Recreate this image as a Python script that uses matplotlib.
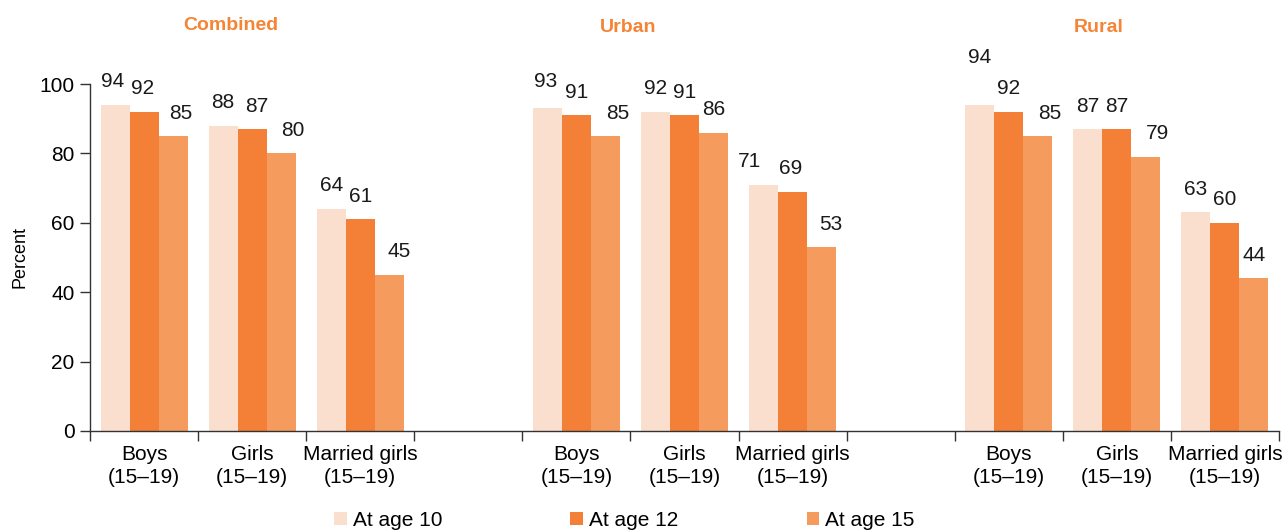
import matplotlib
matplotlib.use("Agg")
import matplotlib.pyplot as plt
import numpy as np

plt.rcParams['font.family'] = ['Liberation Sans', 'DejaVu Sans']

# Data
panels = ["Combined", "Urban", "Rural"]
groups = ["Boys\n(15\u201319)", "Girls\n(15\u201319)", "Married girls\n(15\u201319)"]
series = ["At age 10", "At age 12", "At age 15"]
age10 = [94, 88, 64, 93, 92, 71, 94, 87, 63]
age12 = [92, 87, 61, 91, 91, 69, 92, 87, 60]
age15 = [85, 80, 45, 85, 86, 53, 85, 79, 44]

colors = ["#FBDFCE", "#F47F36", "#F69B5E"]
title_color = "#F58435"

# label nudges (pixels) so the numbers clear each other
dx = [[-2, -1, 8], [0, 5, 12], [0, 0, 10],
      [-2, 0, 12], [0, 0, 0], [-14, -2, 9],
      [0, 0, 12], [0, 0, 12], [0, 0, 0]]
dy = [[0, 0, 0], [0, 0, 0], [0, 0, 0],
      [4, 0, 0], [0, 0, 0], [0, 0, 0],
      [24, 0, 0], [0, 0, 0], [0, 0, 0]]

FS = 15

W, H = 1283, 531
fig = plt.figure(figsize=(W / 100, H / 100), dpi=100)
ax = fig.add_axes([90 / W, 1 - 431 / H, (1279 - 90) / W, (431 - 84) / H])

# slot positions: three groups per panel, one empty slot between panels
slots = []
for p in range(3):
    for g in range(3):
        slots.append(p * 4 + g)
slots = np.array(slots, dtype=float)

bw = 0.2685
values = [age10, age12, age15]
bars = []
for s, (vals, col) in enumerate(zip(values, colors)):
    b = ax.bar(slots + (s - 1) * bw, vals, width=bw, color=col, linewidth=0, label=series[s])
    bars.append(b)
    for i, v in enumerate(vals):
        ax.annotate(f"{v}", (slots[i] + (s - 1) * bw, v), xytext=(dx[i][s], 23 + dy[i][s]),
                    textcoords="offset pixels", ha="center", va="center",
                    fontsize=FS, color="#1a1a1a", annotation_clip=False)

ax.set_xlim(-0.5, 10.5)
ax.set_ylim(0, 100)
ax.set_yticks(range(0, 101, 20))
ax.set_xticks(np.arange(-0.5, 11, 1.0))
ax.set_xticklabels([])
ax.set_xticks(slots, labels=groups * 3, minor=True)
ax.tick_params(axis="x", which="major", length=7, width=1, color="#333333")
ax.tick_params(axis="x", which="minor", length=0, pad=10, labelsize=FS)
ax.tick_params(axis="y", length=7, width=1, color="#333333", labelsize=FS, pad=4)
for lab in ax.get_xticklabels(minor=True):
    lab.set_linespacing(1.3)
for sp in ["top", "right"]:
    ax.spines[sp].set_visible(False)
for sp in ["left", "bottom"]:
    ax.spines[sp].set_color("#333333")
    ax.spines[sp].set_linewidth(1)
ax.set_ylabel("Percent", fontsize=13, labelpad=8)

# panel headings
for name, xpos, ypx in zip(panels, [0.8, 4.48, 8.83], [25, 28, 28]):
    fig.text(ax.transData.transform((xpos, 0))[0] / W, 1 - ypx / H, name,
             ha="center", va="center", color=title_color, fontsize=14, fontweight="bold")

fig.legend(handles=bars, labels=series, loc="center left", bbox_to_anchor=(334 / W, 1 - 520 / H),
           ncol=3, frameon=False, fontsize=FS, handlelength=0.6, handleheight=0.6,
           handletextpad=0.3, columnspacing=6.15, borderpad=0, borderaxespad=0)

fig.savefig("out.png", dpi=100)
